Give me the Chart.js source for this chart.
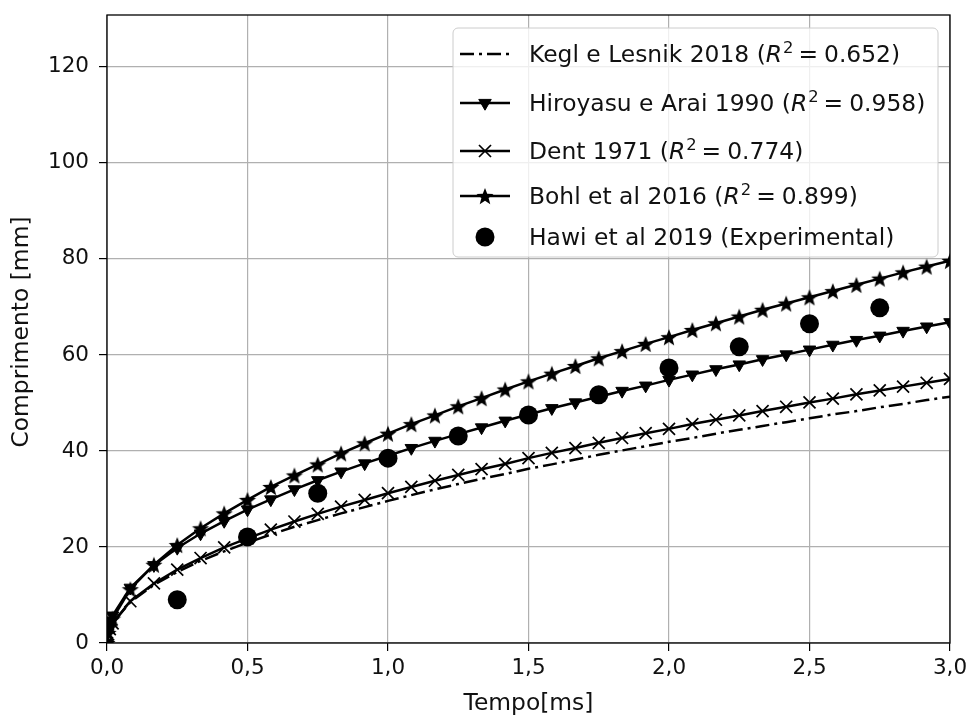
<!DOCTYPE html>
<html>
<head>
<meta charset="utf-8">
<script src="https://cdn.jsdelivr.net/npm/chart.js@4.4.1/dist/chart.umd.min.js"></script>
<style>
  html, body { margin: 0; padding: 0; background: #fff; }
  #wrap { width: 968px; height: 718px; }
</style>
</head>
<body>
<div id="wrap"><canvas id="chart" width="968" height="718"></canvas></div>
<script>
// ==========================================
// Data
// ==========================================
const timeModel = [0, 0.004, 0.01, 0.02, 0.083, 0.167, 0.25, 0.333, 0.417, 0.5, 0.583, 0.667, 0.75, 0.833, 0.917, 1.0,
    1.083, 1.167, 1.25, 1.333, 1.417, 1.5, 1.583, 1.667, 1.75, 1.833, 1.917, 2.0,
    2.083, 2.167, 2.25, 2.333, 2.417, 2.5, 2.583, 2.667, 2.75, 2.833, 2.917, 3.0];

const keglLesnik = [0, 1.9, 3.0, 4.2, 8.5, 12.1, 14.8, 17.1, 19.1, 20.9, 22.6, 24.2, 25.6, 27.0, 28.3, 29.6,
    30.8, 32.0, 33.1, 34.2, 35.2, 36.3, 37.2, 38.2, 39.2, 40.1, 41.0, 41.9,
    42.7, 43.6, 44.4, 45.2, 46.0, 46.8, 47.6, 48.3, 49.1, 49.8, 50.6, 51.3];

const hiroyasuArai = [0, 2.6, 4.1, 5.7, 11.5, 16.2, 19.8, 22.8, 25.4, 27.8, 29.9, 32.0, 33.9, 35.7, 37.4, 39.0,
    40.6, 42.1, 43.5, 44.9, 46.3, 47.6, 48.9, 50.1, 51.3, 52.5, 53.6, 54.8,
    55.9, 57.0, 58.0, 59.1, 60.1, 61.1, 62.1, 63.1, 64.0, 65.0, 65.9, 66.8];

const dent = [0, 1.8, 2.9, 4.1, 8.7, 12.4, 15.3, 17.7, 19.9, 21.8, 23.6, 25.3, 26.9, 28.4, 29.8, 31.2,
    32.5, 33.8, 35.0, 36.2, 37.3, 38.5, 39.6, 40.6, 41.7, 42.7, 43.7, 44.6,
    45.6, 46.5, 47.4, 48.3, 49.2, 50.1, 50.9, 51.8, 52.6, 53.4, 54.2, 55.0];

const bohl = [0, 2.1, 3.5, 5.1, 11.2, 16.3, 20.4, 23.9, 27.0, 29.8, 32.5, 34.9, 37.2, 39.5, 41.6, 43.6,
    45.6, 47.4, 49.3, 51.0, 52.8, 54.5, 56.1, 57.7, 59.3, 60.8, 62.3, 63.7,
    65.2, 66.6, 68.0, 69.4, 70.7, 72.0, 73.3, 74.6, 75.9, 77.2, 78.4, 79.6];

const timeExp = [0.25, 0.5, 0.75, 1.0, 1.25, 1.5, 1.75, 2.0, 2.25, 2.5, 2.75];
const hawiExp = [9.0, 22.1, 31.2, 38.5, 43.1, 47.5, 51.7, 57.3, 61.7, 66.5, 69.8];

const legendNames = ['Kegl e Lesnik 2018', 'Hiroyasu e Arai 1990', 'Dent 1971', 'Bohl et al 2016', 'Hawi et al 2019 (Experimental)'];
const legendR2 = ['0.652', '0.958', '0.774', '0.899', null];

// ==========================================
// Styles
// ==========================================
const FONT = '"DejaVu Sans", "Liberation Sans", sans-serif';
const TICK_FS = 21.5;
const LABEL_FS = 23.4;
const INK = '#111';
const LINE_W = 2.5;

const toPts = (xs, ys) => xs.map((x, i) => ({ x, y: ys[i] }));

// filled five-point star, like matplotlib '*'
function makeStar(r) {
    const c = document.createElement('canvas');
    const s = Math.ceil(r * 2 + 2);
    c.width = s; c.height = s;
    const g = c.getContext('2d');
    const inner = r * 0.42;
    g.beginPath();
    for (let i = 0; i < 10; i++) {
        const rad = i % 2 === 0 ? r : inner;
        const a = -Math.PI / 2 + i * Math.PI / 5;
        const px = s / 2 + rad * Math.cos(a), py = s / 2 + rad * Math.sin(a) + r * 0.1;
        i === 0 ? g.moveTo(px, py) : g.lineTo(px, py);
    }
    g.closePath();
    g.fillStyle = '#000';
    g.fill();
    return c;
}
const starImg = makeStar(9);

const markerOpts = [
    null,
    { pointStyle: 'triangle', rotation: 180, radius: 7.2, borderWidth: 1 },
    { pointStyle: 'crossRot', rotation: 0, radius: 8.5, borderWidth: 1.7 },
    { pointStyle: starImg, rotation: 0, radius: 9, borderWidth: 0 },
    { pointStyle: 'circle', rotation: 0, radius: 9.5, borderWidth: 0 }
];
const DASHDOT = [14, 5, 3, 5];

// ==========================================
// Plugins: frame, axis titles, legend
// ==========================================
const framePlugin = {
    id: 'frame',
    afterDatasetsDraw(chart) {
        const { ctx, chartArea: a } = chart;
        ctx.save();
        ctx.strokeStyle = '#000';
        ctx.lineWidth = 1.3;
        ctx.strokeRect(a.left, a.top, a.right - a.left, a.bottom - a.top);

        ctx.fillStyle = INK;
        ctx.font = `${LABEL_FS}px ${FONT}`;
        ctx.textAlign = 'center';
        ctx.textBaseline = 'middle';
        ctx.fillText('Tempo[ms]', (a.left + a.right) / 2, 704);
        ctx.translate(22, 332);
        ctx.rotate(-Math.PI / 2);
        ctx.fillText('Comprimento [mm]', 0, 0);
        ctx.restore();
    }
};

function drawLegendText(ctx, name, r2, x, y) {
    ctx.font = `${LABEL_FS}px ${FONT}`;
    if (!r2) { ctx.fillText(name, x, y); return; }
    const head = name + ' (';
    ctx.fillText(head, x, y);
    x += ctx.measureText(head).width;
    ctx.font = `italic ${LABEL_FS}px ${FONT}`;
    ctx.fillText('R', x, y);
    x += ctx.measureText('R').width + 1;
    ctx.font = `${LABEL_FS * 0.7}px ${FONT}`;
    ctx.fillText('2', x, y - 9);
    x += ctx.measureText('2').width + 5;
    ctx.font = `${LABEL_FS}px ${FONT}`;
    ctx.fillText('=', x, y);
    x += ctx.measureText('=').width + 6;
    ctx.fillText(r2 + ')', x, y);
}

const legendPlugin = {
    id: 'mplLegend',
    afterDraw(chart) {
        const ctx = chart.ctx;
        const box = { x: 453, y: 28, w: 485, h: 229 };
        const rows = [54, 103, 151, 196, 237];
        ctx.save();
        ctx.beginPath();
        ctx.roundRect(box.x, box.y, box.w, box.h, 5);
        ctx.fillStyle = 'rgba(255,255,255,0.8)';
        ctx.fill();
        ctx.strokeStyle = '#cccccc';
        ctx.lineWidth = 1;
        ctx.stroke();

        rows.forEach((ry, i) => {
            ctx.strokeStyle = '#000';
            ctx.fillStyle = '#000';
            ctx.lineWidth = LINE_W;
            if (i < 4) {
                ctx.setLineDash(i === 0 ? DASHDOT : []);
                ctx.beginPath();
                ctx.moveTo(460, ry);
                ctx.lineTo(510, ry);
                ctx.stroke();
                ctx.setLineDash([]);
            }
            if (markerOpts[i]) {
                ctx.lineWidth = markerOpts[i].borderWidth || 1;
                Chart.helpers.drawPoint(ctx, markerOpts[i], 485, ry);
            }
            ctx.fillStyle = INK;
            ctx.textAlign = 'left';
            ctx.textBaseline = 'alphabetic';
            drawLegendText(ctx, legendNames[i], legendR2[i], 529, ry + 8);
        });
        ctx.restore();
    }
};

// ==========================================
// Chart
// ==========================================
const modelSeries = [keglLesnik, hiroyasuArai, dent, bohl];

const datasets = modelSeries.map((ys, i) => ({
    label: legendNames[i],
    data: toPts(timeModel, ys),
    showLine: true,
    borderColor: '#000',
    backgroundColor: '#000',
    borderWidth: LINE_W,
    borderDash: i === 0 ? DASHDOT : [],
    pointRadius: i === 0 ? 0 : markerOpts[i].radius,
    pointStyle: i === 0 ? 'circle' : markerOpts[i].pointStyle,
    pointRotation: i === 0 ? 0 : markerOpts[i].rotation,
    pointBorderWidth: i === 0 ? 0 : markerOpts[i].borderWidth,
    pointBorderColor: '#000',
    pointBackgroundColor: '#000',
    tension: 0,
    order: 5 - i
}));

datasets.push({
    label: legendNames[4],
    data: toPts(timeExp, hawiExp),
    showLine: false,
    pointStyle: 'circle',
    pointRadius: markerOpts[4].radius,
    pointBorderWidth: 0,
    pointBackgroundColor: '#000',
    borderColor: '#000',
    order: 0
});

new Chart(document.getElementById('chart').getContext('2d'), {
    type: 'scatter',
    data: { datasets },
    options: {
        responsive: false,
        devicePixelRatio: 1,
        animation: false,
        layout: { padding: { top: 15, right: 18, left: 0, bottom: 0 } },
        plugins: {
            legend: { display: false },
            tooltip: { enabled: false }
        },
        scales: {
            x: {
                type: 'linear',
                min: 0,
                max: 3,
                afterFit: (s) => { s.height = 75; s.paddingLeft = 0; s.paddingRight = 0; },
                border: { display: false },
                grid: { color: '#b0b0b0', lineWidth: 1.2, tickColor: '#000', tickLength: 8 },
                ticks: {
                    stepSize: 0.5,
                    padding: 5,
                    color: INK,
                    font: { family: FONT, size: TICK_FS },
                    callback: (v) => v.toFixed(1).replace('.', ',')
                }
            },
            y: {
                type: 'linear',
                min: 0,
                max: 130.8,
                afterFit: (s) => { s.width = 107; s.paddingTop = 0; s.paddingBottom = 0; },
                border: { display: false },
                grid: { color: '#b0b0b0', lineWidth: 1.2, tickColor: '#000', tickLength: 8 },
                ticks: {
                    stepSize: 20,
                    includeBounds: false,
                    padding: 10,
                    color: INK,
                    font: { family: FONT, size: TICK_FS }
                }
            }
        }
    },
    plugins: [framePlugin, legendPlugin]
});
</script>
</body>
</html>
